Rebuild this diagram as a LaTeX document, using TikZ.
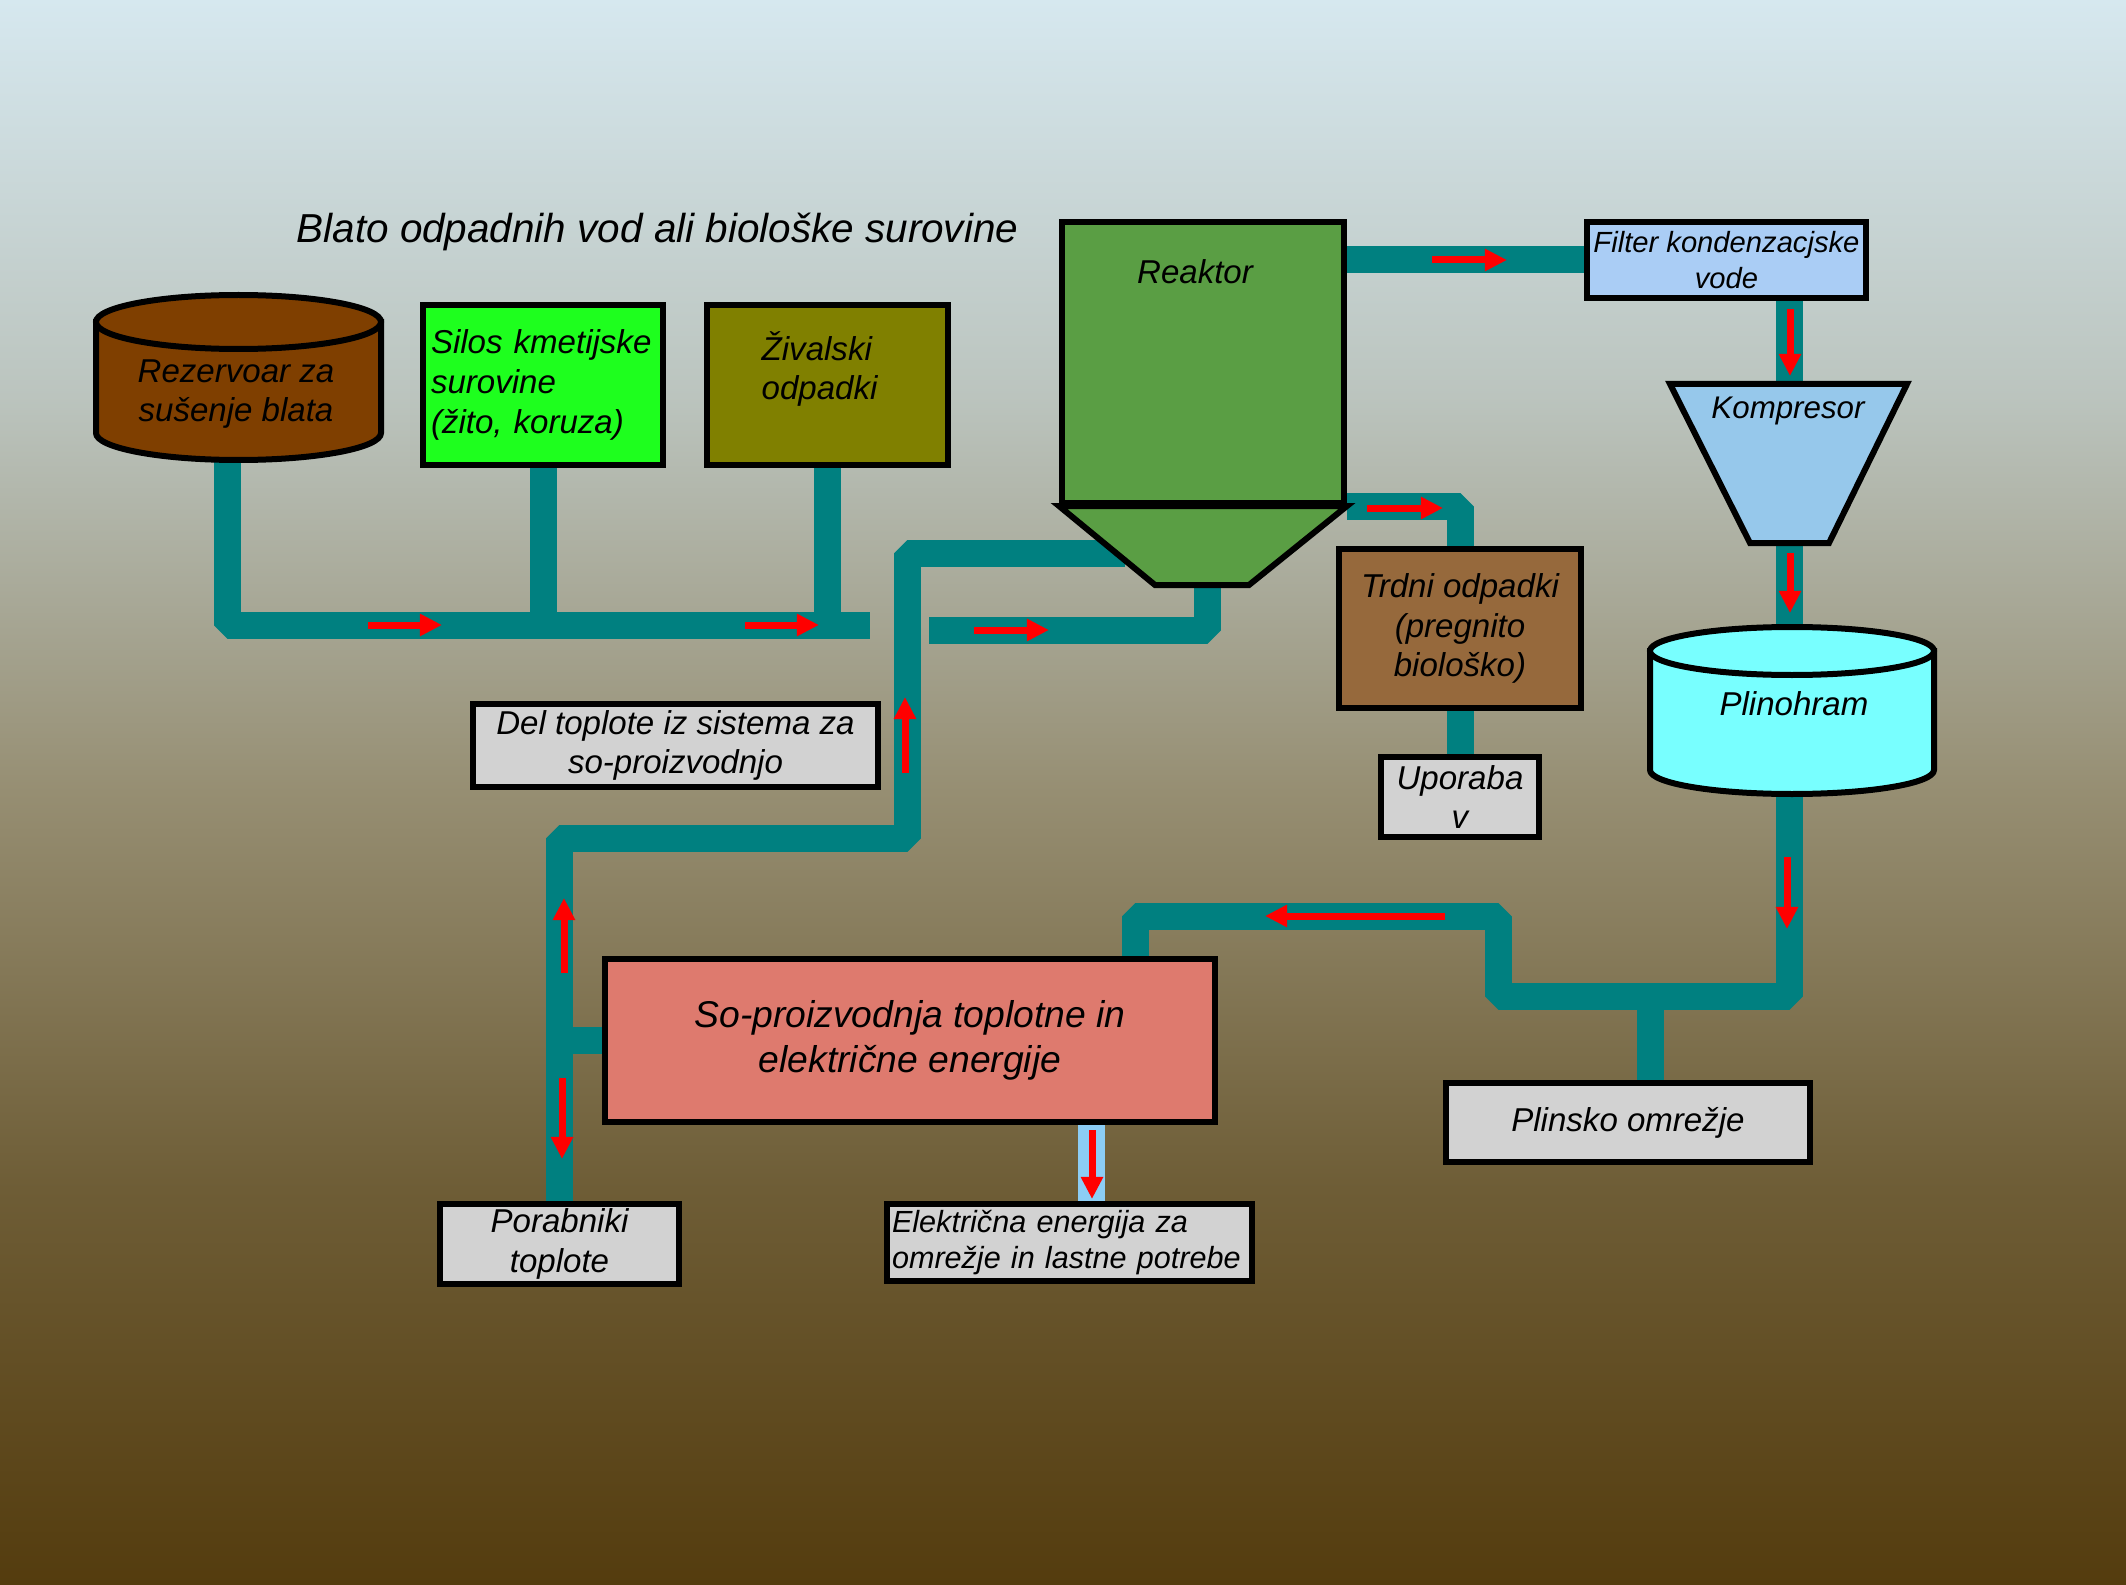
\documentclass[tikz,border=0pt]{standalone}
\usepackage{fontspec}
\setmainfont{Liberation Sans}
\usetikzlibrary{arrows.meta}

\newlength{\du}
\setlength{\du}{0.01cm}

\definecolor{pipecolor}{RGB}{0,128,128}
\definecolor{mudbrown}{RGB}{127,63,0}
\definecolor{silosgreen}{RGB}{30,255,30}
\definecolor{olivebox}{RGB}{128,128,0}
\definecolor{reactorgreen}{RGB}{90,158,68}
\definecolor{filterblue}{RGB}{170,205,245}
\definecolor{kompblue}{RGB}{150,200,235}
\definecolor{gascyan}{RGB}{120,255,255}
\definecolor{solidbrown}{RGB}{150,105,60}
\definecolor{greybox}{RGB}{210,210,210}
\definecolor{chpred}{RGB}{222,122,110}
\definecolor{elblue}{RGB}{140,205,245}
\definecolor{bgone}{RGB}{214,232,239}
\definecolor{bgtwo}{RGB}{187,196,190}
\definecolor{bgthree}{RGB}{150,142,114}
\definecolor{bgfour}{RGB}{110,93,54}
\definecolor{bgfive}{RGB}{84,60,14}

\pgfdeclareverticalshading{sky}{100bp}{color(0bp)=(bgfive); color(25bp)=(bgfive); color(37.5bp)=(bgfour); color(50bp)=(bgthree); color(62.5bp)=(bgtwo); color(75bp)=(bgone); color(100bp)=(bgone)}
\pgfdeclarelayer{skylayer}
\pgfdeclarelayer{pipes}
\pgfsetlayers{skylayer,pipes,main}

\tikzset{
  txt/.style={font=\fontsize{9.4}{11.3}\selectfont\itshape, inner sep=0pt},
  box/.style={txt, draw=black, line width=6\du, rectangle},
  vessel/.style={draw=black, line width=6\du},
  pipe/.style={draw=pipecolor, line width=27\du, line join=bevel},
  elink/.style={draw=elblue, line width=27\du},
  flow/.style={draw=red, line width=7\du, -{Triangle[length=0.22cm,width=0.21cm]}},
}

\begin{document}
\begin{tikzpicture}
\useasboundingbox (0\du,0\du) rectangle (2126\du,-1585\du);
\begin{pgfonlayer}{skylayer}
\shade[shading=sky] (0\du,0\du) rectangle (2126\du,-1585\du);
\end{pgfonlayer}
\pgftransformxscale{1.000000}
\pgftransformyscale{-1.000000}

% title
\node[txt, font=\fontsize{11.5}{14}\selectfont\itshape] (titel) at (657.5\du,232\du) {Blato odpadnih vod ali biološke surovine};

% rezervoar
\filldraw[vessel, fill=mudbrown] (96\du,322\du) -- (96\du,433\du) arc[start angle=180, end angle=0, x radius=142.5\du, y radius=27\du] -- (381\du,322\du) -- cycle;
\filldraw[vessel, fill=mudbrown] (238.5\du,322\du) ellipse [x radius=142.5\du, y radius=27\du];
\node[txt, align=center] (rezervoar) at (236\du,394\du) {Rezervoar za\\sušenje blata};

\node[box, fill=silosgreen, minimum height=160\du, text width=224\du, inner xsep=8\du, align=left] (silos) at (543\du,385\du) {Silos kmetijske\\surovine\\(žito, koruza)};
\node[box, fill=olivebox, minimum width=241\du, minimum height=160\du] (zival) at (827.5\du,385\du) {};
\node[txt, anchor=west, align=left] (zivaltxt) at (761\du,369\du) {Živalski\\odpadki};

% reaktor
\node[box, fill=reactorgreen, minimum width=282\du, minimum height=281\du] (reaktor) at (1203\du,362.5\du) {};
\filldraw[vessel, fill=reactorgreen] (reaktor.south west) -- (1155\du,585\du) -- (1249\du,585\du) -- (reaktor.south east) -- cycle;
\node[txt] (reaktortxt) at (1195\du,272\du) {Reaktor};

\node[box, fill=filterblue, minimum width=279\du, minimum height=76\du, inner sep=2\du, align=center, font=\fontsize{8.3}{10.2}\selectfont\itshape] (filter) at (1726.5\du,260\du) {Filter kondenzacjske\\vode};

% kompresor
\filldraw[vessel, fill=kompblue] (1670\du,384\du) -- (1907\du,384\du) -- (1829\du,543\du) -- (1750\du,543\du) -- cycle;
\node[txt, font=\fontsize{8.9}{10.7}\selectfont\itshape] (kompresor) at (1788\du,411\du) {Kompresor};

% plinohram
\filldraw[vessel, fill=gascyan] (1650\du,651\du) -- (1650\du,770\du) arc[start angle=180, end angle=0, x radius=142\du, y radius=24\du] -- (1934\du,651\du) -- cycle;
\filldraw[vessel, fill=gascyan] (1792\du,651\du) ellipse [x radius=142\du, y radius=24\du];
\node[txt] (plinohram) at (1794\du,704\du) {Plinohram};

\node[box, fill=solidbrown, minimum width=242\du, minimum height=159\du, align=center] (trdni) at (1460\du,628.5\du) {Trdni odpadki\\(pregnito\\biološko)};
\node[box, fill=greybox, minimum width=158\du, minimum height=80\du, align=center] (uporaba) at (1460\du,797\du) {Uporaba\\v};
\node[box, fill=greybox, minimum width=405\du, minimum height=83\du, align=center] (toplota) at (675.5\du,745.5\du) {Del toplote iz sistema za\\so-proizvodnjo};
\node[box, fill=chpred, minimum width=610\du, minimum height=163\du, align=center, font=\fontsize{10.6}{12.8}\selectfont\itshape] (sopro) at (910\du,1040.5\du) {So-proizvodnja toplotne in\\električne energije};
\node[box, fill=greybox, minimum width=239\du, minimum height=80\du, align=center] (porabniki) at (559.5\du,1244\du) {Porabniki\\toplote};
\node[box, fill=greybox, minimum height=77\du, text width=355\du, inner xsep=5\du, align=left, font=\fontsize{8.7}{10.5}\selectfont\itshape] (elektrika) at (1069.5\du,1242.5\du) {Električna energija za\\omrežje in lastne potrebe};
\node[box, fill=greybox, minimum width=364\du, minimum height=79\du] (plinsko) at (1628\du,1122.5\du) {Plinsko omrežje};

\coordinate (rezBot) at (227.5\du,440\du);
\coordinate (feedEnd) at (870\du,625\du);
\coordinate (inletStart) at (929\du,630\du);
\coordinate (lijak) at (1207.5\du,580\du);
\coordinate (heatStart) at (1125\du,553\du);
\coordinate (heatBend) at (907.5\du,838\du);
\coordinate (kompTop) at (1789.5\du,390\du);
\coordinate (kompBot) at (1789.5\du,540\du);
\coordinate (plinTop) at (1789.5\du,640\du);
\coordinate (plinBot) at (1789.5\du,780\du);
\coordinate (gasLow) at (1498.5\du,996\du);
\coordinate (gasHigh) at (1498.5\du,916\du);
\coordinate (gasDrop) at (1135\du,960\du);
\coordinate (gasTee) at (1650\du,996\du);
\coordinate (elTop) at (1091.5\du,1124\du);

\begin{pgfonlayer}{pipes}
\draw[pipe] (rezBot) |- (feedEnd);
\draw[pipe] (silos.south) -- (silos.south |- feedEnd);
\draw[pipe] (zival.south) -- (zival.south |- feedEnd);
\draw[pipe] (inletStart) -| (lijak);
\draw[pipe] (reaktor.east |- filter.west) -- (filter.west);
\draw[pipe] (filter.south -| kompTop) -- (kompTop);
\draw[pipe] (kompBot) -- (plinTop);
\draw[pipe] (reaktor.south east) -| (trdni.north);
\draw[pipe] (trdni.south) -- (uporaba.north);
\draw[pipe] (heatStart) -| (heatBend) -| (porabniki.north);
\draw[pipe] (sopro.west) -- (sopro.west -| porabniki.north);
\draw[pipe] (plinBot) |- (gasLow) -- (gasHigh) -| (gasDrop);
\draw[pipe] (gasTee) -- (gasTee |- plinsko.north);
\draw[elink] (elTop) -- (elTop |- elektrika.north);
\end{pgfonlayer}

% flow arrows
\draw[flow] (368\du,625\du) -- (442\du,625\du);
\draw[flow] (745\du,625\du) -- (819\du,625\du);
\draw[flow] (974\du,630\du) -- (1049\du,630\du);
\draw[flow] (1432\du,260\du) -- (1507\du,260\du);
\draw[flow] (1367\du,508\du) -- (1443\du,508\du);
\draw[flow] (1790\du,309\du) -- (1790\du,376\du);
\draw[flow] (1790\du,553\du) -- (1790\du,613\du);
\draw[flow] (905\du,773\du) -- (905\du,697\du);
\draw[flow] (564\du,973\du) -- (564\du,898\du);
\draw[flow] (562\du,1078\du) -- (562\du,1159\du);
\draw[flow] (1787\du,857\du) -- (1787\du,929\du);
\draw[flow] (1445\du,916\du) -- (1265\du,916\du);
\draw[flow] (1092\du,1130\du) -- (1092\du,1199\du);
\end{tikzpicture}
\end{document}
